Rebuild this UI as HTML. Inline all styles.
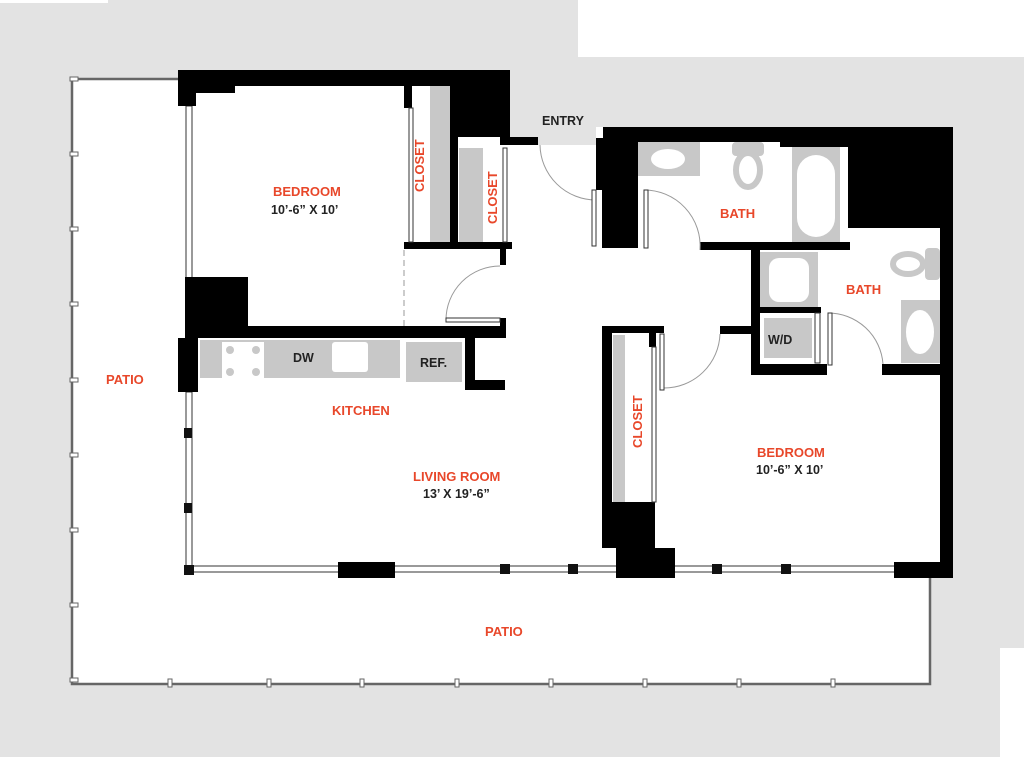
<!DOCTYPE html>
<html><head><meta charset="utf-8"><style>
html,body{margin:0;padding:0;background:#fff}
svg{display:block}
text{font-family:"Liberation Sans",sans-serif;font-weight:bold}
.r{fill:#e8472a;font-size:13px}
.k{fill:#222;font-size:12.5px}
</style></head><body>
<svg width="1024" height="757" viewBox="0 0 1024 757" xmlns="http://www.w3.org/2000/svg">
<rect x="0" y="0" width="1024" height="757" fill="#e3e3e3"/>
<rect x="0" y="0" width="108" height="3" fill="#fff"/>
<rect x="578" y="0" width="446" height="57" fill="#fff"/>
<rect x="1000" y="648" width="24" height="109" fill="#fff"/>
<!-- patio -->
<path d="M72 79 H180 V70 H510 V145 H596 V127 H953 V578 H930 V684 H72 Z" fill="#fff"/>
<path d="M72 79 H180 M72 79 V684 H930 V578" fill="none" stroke="#666" stroke-width="2.5"/>
<g fill="#fff" stroke="#666" stroke-width="1">
<rect x="70" y="77" width="8" height="4"/><rect x="70" y="152" width="8" height="4"/><rect x="70" y="227" width="8" height="4"/><rect x="70" y="302" width="8" height="4"/><rect x="70" y="378" width="8" height="4"/><rect x="70" y="453" width="8" height="4"/><rect x="70" y="528" width="8" height="4"/><rect x="70" y="603" width="8" height="4"/><rect x="70" y="678" width="8" height="4"/>
<rect x="168" y="679" width="4" height="8"/><rect x="267" y="679" width="4" height="8"/><rect x="360" y="679" width="4" height="8"/><rect x="455" y="679" width="4" height="8"/><rect x="549" y="679" width="4" height="8"/><rect x="643" y="679" width="4" height="8"/><rect x="737" y="679" width="4" height="8"/><rect x="831" y="679" width="4" height="8"/>
</g>
<path d="M186 86 H510 V145 H596 V127 H953 V572 H186 Z" fill="#fff"/>
<g fill="#fff" stroke="#333" stroke-width="1">
<rect x="186" y="106" width="6" height="172"/>
<rect x="186" y="392" width="6" height="180"/>
<rect x="190" y="566" width="750" height="6"/>
</g>
<g fill="#111">
<rect x="184" y="428" width="8" height="10"/><rect x="184" y="503" width="8" height="10"/>
<rect x="184" y="565" width="10" height="10"/><rect x="500" y="564" width="10" height="10"/><rect x="568" y="564" width="10" height="10"/><rect x="712" y="564" width="10" height="10"/><rect x="781" y="564" width="10" height="10"/>
</g>
<g fill="#c8c8c8">
<rect x="430" y="86" width="20" height="156"/>
<rect x="459" y="148" width="24" height="94"/>
<rect x="200" y="340" width="200" height="38"/>
<rect x="406" y="342" width="56" height="40"/>
<rect x="638" y="142" width="62" height="34"/>
<rect x="792" y="147" width="48" height="95"/>
<rect x="760" y="252" width="58" height="55"/>
<rect x="764" y="318" width="48" height="40"/>
<rect x="901" y="300" width="39" height="63"/>
<rect x="613" y="335" width="12" height="167"/>
</g>
<g fill="#fff">
<rect x="222" y="342" width="42" height="38"/>
<rect x="332" y="342" width="36" height="30" rx="3"/>
<ellipse cx="668" cy="159" rx="17" ry="10"/>
<rect x="797" y="155" width="38" height="82" rx="19"/>
<rect x="769" y="258" width="40" height="44" rx="10"/>
<ellipse cx="920" cy="332" rx="14" ry="22"/>
</g>
<g fill="#c8c8c8">
<circle cx="230" cy="350" r="4"/><circle cx="256" cy="350" r="4"/><circle cx="230" cy="372" r="4"/><circle cx="256" cy="372" r="4"/>
<rect x="732" y="142" width="32" height="14" rx="4"/>
<ellipse cx="748" cy="170" rx="12" ry="17" fill="none" stroke="#c8c8c8" stroke-width="6"/>
<rect x="925" y="248" width="15" height="32" rx="4"/>
<ellipse cx="908" cy="264" rx="15" ry="10" fill="none" stroke="#c8c8c8" stroke-width="6"/>
</g>
<g fill="#000">
<rect x="178" y="70" width="332" height="16"/>
<rect x="178" y="70" width="18" height="36"/>
<rect x="196" y="86" width="39" height="7"/>
<rect x="404" y="86" width="8" height="22"/>
<rect x="450" y="86" width="60" height="51"/>
<rect x="450" y="137" width="8" height="105"/>
<rect x="500" y="137" width="38" height="8"/>
<rect x="404" y="242" width="108" height="7"/>
<rect x="500" y="249" width="6" height="16"/>
<rect x="185" y="277" width="63" height="51"/>
<rect x="185" y="326" width="321" height="12"/>
<rect x="178" y="338" width="20" height="54"/>
<rect x="465" y="338" width="10" height="52"/>
<rect x="465" y="380" width="40" height="10"/>
<rect x="500" y="318" width="6" height="20"/>
<rect x="603" y="127" width="350" height="15"/>
<rect x="596" y="138" width="8" height="52"/>
<rect x="602" y="142" width="36" height="106"/>
<rect x="700" y="242" width="150" height="8"/>
<rect x="848" y="142" width="92" height="86"/>
<rect x="780" y="142" width="70" height="5"/>
<rect x="940" y="127" width="13" height="451"/>
<rect x="751" y="250" width="9" height="125"/>
<rect x="751" y="307" width="70" height="6"/>
<rect x="751" y="364" width="76" height="11"/>
<rect x="882" y="364" width="58" height="11"/>
<rect x="720" y="326" width="31" height="8"/>
<rect x="602" y="326" width="62" height="7"/>
<rect x="602" y="326" width="10" height="222"/>
<rect x="602" y="502" width="53" height="46"/>
<rect x="616" y="548" width="59" height="30"/>
<rect x="338" y="562" width="57" height="16"/>
<rect x="894" y="562" width="59" height="16"/>
<rect x="649" y="333" width="7" height="14"/>
</g>
<g fill="none" stroke="#999" stroke-width="1">
<path d="M540 145 A56 56 0 0 0 596 200"/>
<path d="M446 320 A54 54 0 0 1 500 266"/>
<path d="M644 190 A56 56 0 0 1 700 250"/>
<path d="M664 388 A56 56 0 0 0 720 334"/>
<path d="M828 313 A55 55 0 0 1 883 364"/>
<line x1="404" y1="250" x2="404" y2="326" stroke-dasharray="6 4"/>
</g>
<g fill="#fff" stroke="#333" stroke-width="1">
<rect x="592" y="190" width="4" height="56"/>
<rect x="644" y="190" width="4" height="58"/>
<rect x="446" y="318" width="54" height="4"/>
<rect x="660" y="334" width="4" height="56"/>
<rect x="828" y="313" width="4" height="52"/>
<rect x="409" y="108" width="4" height="134"/>
<rect x="503" y="148" width="4" height="94"/>
<rect x="652" y="347" width="4" height="155"/>
<rect x="815" y="313" width="5" height="50"/>
</g>
<text class="k" x="542" y="125">ENTRY</text>
<text class="r" x="273" y="196">BEDROOM</text>
<text class="k" x="271" y="214">10’-6” X 10’</text>
<text class="r" transform="translate(424,192) rotate(-90)">CLOSET</text>
<text class="r" transform="translate(497,224) rotate(-90)">CLOSET</text>
<text class="r" x="720" y="218">BATH</text>
<text class="r" x="846" y="294">BATH</text>
<text class="k" x="768" y="344">W/D</text>
<text class="k" x="293" y="362">DW</text>
<text class="k" x="420" y="367">REF.</text>
<text class="r" x="106" y="384">PATIO</text>
<text class="r" x="332" y="415">KITCHEN</text>
<text class="r" x="413" y="481">LIVING ROOM</text>
<text class="k" x="423" y="498">13’ X 19’-6”</text>
<text class="r" transform="translate(642,448) rotate(-90)">CLOSET</text>
<text class="r" x="757" y="457">BEDROOM</text>
<text class="k" x="756" y="474">10’-6” X 10’</text>
<text class="r" x="485" y="636">PATIO</text>
</svg>
</body></html>
